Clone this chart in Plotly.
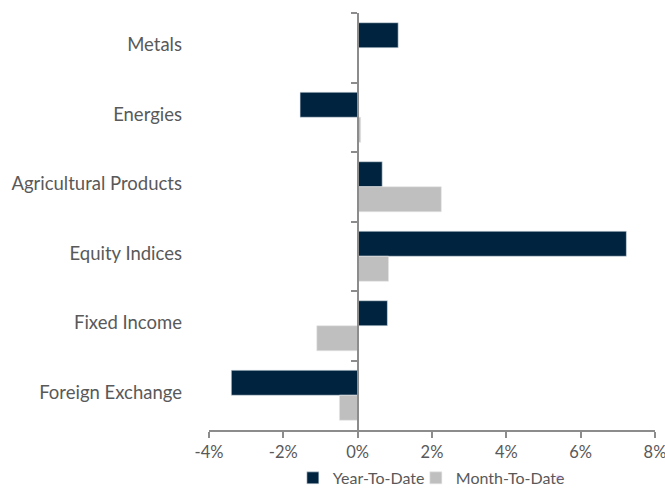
import plotly.graph_objects as go

categories = ["Metals", "Energies", "Agricultural Products", "Equity Indices", "Fixed Income", "Foreign Exchange"]
ytd = [1.09, -1.55, 0.66, 7.23, 0.80, -3.40]
mtd = [0.0, 0.08, 2.25, 0.83, -1.10, -0.49]
tick_vals = [-4, -2, 0, 2, 4, 6, 8]
tick_text = ["-4%", "-2%", "0%", "2%", "4%", "6%", "8%"]

navy = "#00243f"
gray = "#bfbfbf"
text_color = "#595959"
axis_color = "#8c8c8c"

fig = go.Figure()
fig.add_trace(go.Bar(y=categories, x=ytd, orientation="h", name="Year-To-Date",
                     marker=dict(color=navy, line=dict(color="#d9e1e8", width=0.6))))
fig.add_trace(go.Bar(y=categories, x=mtd, orientation="h", name="Month-To-Date",
                     marker=dict(color=gray, line=dict(color="#e6e6e6", width=0.6))))
fig.add_trace(go.Scatter(y=categories, x=[0] * len(categories), yaxis="y2", mode="none",
                         showlegend=False, hoverinfo="skip"))
# spacer legend entry so the last visible entry's text is not clipped
fig.add_trace(go.Scatter(x=[None], y=[None], mode="markers", name=" ",
                         marker=dict(opacity=0), showlegend=True, hoverinfo="skip"))

fig.update_layout(
    width=665, height=489,
    margin=dict(l=209, r=10, t=13, b=59, autoexpand=False),
    paper_bgcolor="white", plot_bgcolor="white",
    font=dict(family="Lato", size=18, color=text_color),
    barmode="group", bargap=0.28, bargroupgap=0,
    showlegend=True,
    legend=dict(orientation="h", x=0.188, xanchor="left", y=-0.115, yanchor="middle",
                font=dict(size=16, color=text_color), traceorder="normal",
                itemwidth=30, tracegroupgap=0, entrywidth=78),
    xaxis=dict(range=[-4, 8], tickvals=tick_vals, ticktext=tick_text, automargin=False,
               showgrid=False, zeroline=False, showline=True, linecolor=axis_color, linewidth=1.5,
               ticks="outside", ticklen=6, tickcolor=axis_color, tickwidth=1.5,
               ticklabeloverflow="allow",
               tickfont=dict(size=16.5, color=text_color), fixedrange=True),
    yaxis=dict(categoryorder="array", categoryarray=categories, autorange="reversed",
               automargin=False, ticklabelshift=3,
               showgrid=False, zeroline=False, showline=False, ticks="",
               ticklabelstandoff=26, tickfont=dict(size=18.5, color=text_color)),
    yaxis2=dict(overlaying="y", matches="y", anchor="free", position=1/3, automargin=False,
                showgrid=False, zeroline=False, showline=True, linecolor=axis_color, linewidth=1.5,
                ticks="outside", tickson="boundaries", ticklen=6, tickcolor=axis_color, tickwidth=1.5,
                showticklabels=False),
)

fig.write_html("out.html", config={"displayModeBar": False},
               post_script="document.body.style.margin='0';document.body.style.overflow='hidden';")
